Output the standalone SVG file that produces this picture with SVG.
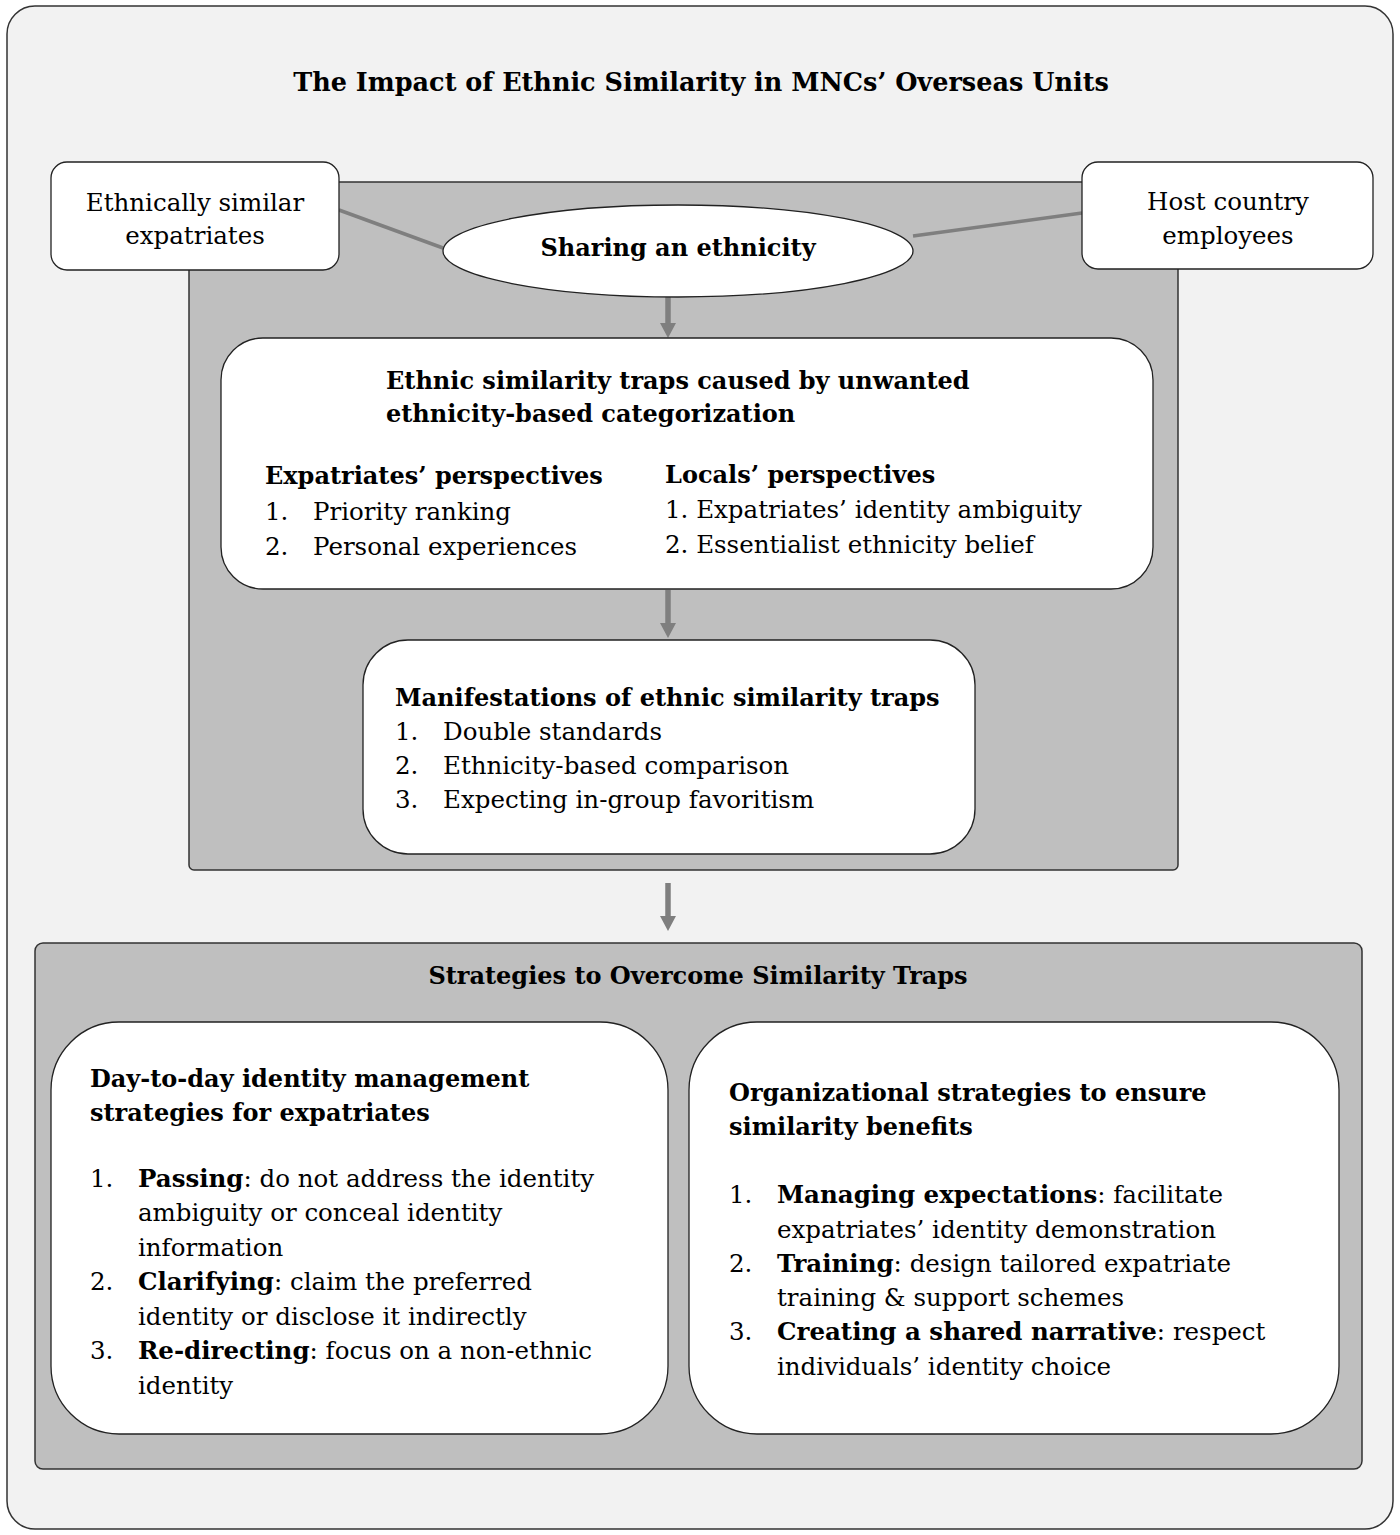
<svg xmlns="http://www.w3.org/2000/svg" width="1400" height="1535" viewBox="0 0 1400 1535">
<style>
text { font-family: "DejaVu Serif", "Liberation Serif", serif; fill: #000; }
.t { font-size: 24.5px; }
.b { font-weight: bold; }
.h { font-size: 24px; font-weight: bold; }
.title { font-size: 25.5px; font-weight: bold; }
.frame { fill: #f2f2f2; stroke: #333; stroke-width: 1.5; }
.panel { fill: #bfbfbf; stroke: #333; stroke-width: 1.5; }
.node { fill: #fff; stroke: #222; stroke-width: 1.3; }
.conn { stroke: #7f7f7f; stroke-width: 3.5; fill: none; }
.arrow { stroke: #7f7f7f; stroke-width: 5.5; fill: none; }
</style>
<defs>
<marker id="ah" viewBox="0 0 16 16" markerWidth="16" markerHeight="16" refX="0" refY="8" orient="auto" markerUnits="userSpaceOnUse">
<path d="M0,0 L15,8 L0,16 z" fill="#7f7f7f"/>
</marker>
</defs>

<rect class="frame" x="7" y="6" width="1386" height="1523" rx="28"/>
<text class="title" x="701" y="91" text-anchor="middle">The Impact of Ethnic Similarity in MNCs’ Overseas Units</text>

<rect id="impact-panel" class="panel" x="189" y="182" width="989" height="688" rx="5"/>

<g id="connectors">
<line class="conn" x1="339" y1="210" x2="443" y2="248"/>
<line class="conn" x1="913" y1="236" x2="1082" y2="213"/>
<line class="arrow" x1="668" y1="297" x2="668" y2="323" marker-end="url(#ah)"/>
<line class="arrow" x1="668" y1="590" x2="668" y2="623" marker-end="url(#ah)"/>
<line class="arrow" x1="668" y1="883" x2="668" y2="916" marker-end="url(#ah)"/>
</g>

<g id="node-expatriates">
<rect class="node" x="51" y="162" width="288" height="108" rx="16"/>
<text class="t" x="195" y="211" text-anchor="middle">Ethnically similar</text>
<text class="t" x="195" y="244" text-anchor="middle">expatriates</text>
</g>

<g id="node-host">
<rect class="node" x="1082" y="162" width="291" height="107" rx="16"/>
<text class="t" x="1228" y="210" text-anchor="middle">Host country</text>
<text class="t" x="1228" y="244" text-anchor="middle">employees</text>
</g>

<g id="node-sharing">
<ellipse class="node" cx="678" cy="251" rx="235" ry="46"/>
<text class="h" x="678" y="256" text-anchor="middle">Sharing an ethnicity</text>
</g>

<g id="node-traps">
<rect class="node" x="221" y="338" width="932" height="251" rx="42"/>
<text class="h" x="386" y="389">Ethnic similarity traps caused by unwanted</text>
<text class="h" x="386" y="422">ethnicity-based categorization</text>
<text class="h" x="265" y="484">Expatriates’ perspectives</text>
<text class="t" x="265" y="520">1.</text>
<text class="t" x="313" y="520">Priority ranking</text>
<text class="t" x="265" y="555">2.</text>
<text class="t" x="313" y="555">Personal experiences</text>
<text class="h" x="665" y="483">Locals’ perspectives</text>
<text class="t" x="665" y="518">1. Expatriates’ identity ambiguity</text>
<text class="t" x="665" y="553">2. Essentialist ethnicity belief</text>
</g>

<g id="node-manifestations">
<rect class="node" x="363" y="640" width="612" height="214" rx="45"/>
<text class="h" x="395" y="706">Manifestations of ethnic similarity traps</text>
<text class="t" x="395" y="740">1.</text>
<text class="t" x="443" y="740">Double standards</text>
<text class="t" x="395" y="774">2.</text>
<text class="t" x="443" y="774">Ethnicity-based comparison</text>
<text class="t" x="395" y="808">3.</text>
<text class="t" x="443" y="808">Expecting in-group favoritism</text>
</g>

<g id="strategies-panel">
<rect class="panel" x="35" y="943" width="1327" height="526" rx="8"/>
<text class="h" x="698" y="984" text-anchor="middle">Strategies to Overcome Similarity Traps</text>
</g>

<g id="node-daytoday">
<rect class="node" x="51" y="1022" width="617" height="412" rx="68"/>
<text class="h" x="90" y="1087">Day-to-day identity management</text>
<text class="h" x="90" y="1121">strategies for expatriates</text>
<text class="t" x="90" y="1187">1.</text>
<text class="t" x="138" y="1187"><tspan class="b">Passing</tspan>: do not address the identity</text>
<text class="t" x="138" y="1221">ambiguity or conceal identity</text>
<text class="t" x="138" y="1256">information</text>
<text class="t" x="90" y="1290">2.</text>
<text class="t" x="138" y="1290"><tspan class="b">Clarifying</tspan>: claim the preferred</text>
<text class="t" x="138" y="1325">identity or disclose it indirectly</text>
<text class="t" x="90" y="1359">3.</text>
<text class="t" x="138" y="1359"><tspan class="b">Re-directing</tspan>: focus on a non-ethnic</text>
<text class="t" x="138" y="1394">identity</text>
</g>

<g id="node-organizational">
<rect class="node" x="689" y="1022" width="650" height="412" rx="68"/>
<text class="h" x="729" y="1101">Organizational strategies to ensure</text>
<text class="h" x="729" y="1135">similarity benefits</text>
<text class="t" x="729" y="1203">1.</text>
<text class="t" x="777" y="1203"><tspan class="b">Managing expectations</tspan>: facilitate</text>
<text class="t" x="777" y="1238">expatriates’ identity demonstration</text>
<text class="t" x="729" y="1272">2.</text>
<text class="t" x="777" y="1272"><tspan class="b">Training</tspan>: design tailored expatriate</text>
<text class="t" x="777" y="1306">training &amp; support schemes</text>
<text class="t" x="729" y="1340">3.</text>
<text class="t" x="777" y="1340"><tspan class="b">Creating a shared narrative</tspan>: respect</text>
<text class="t" x="777" y="1375">individuals’ identity choice</text>
</g>
</svg>
